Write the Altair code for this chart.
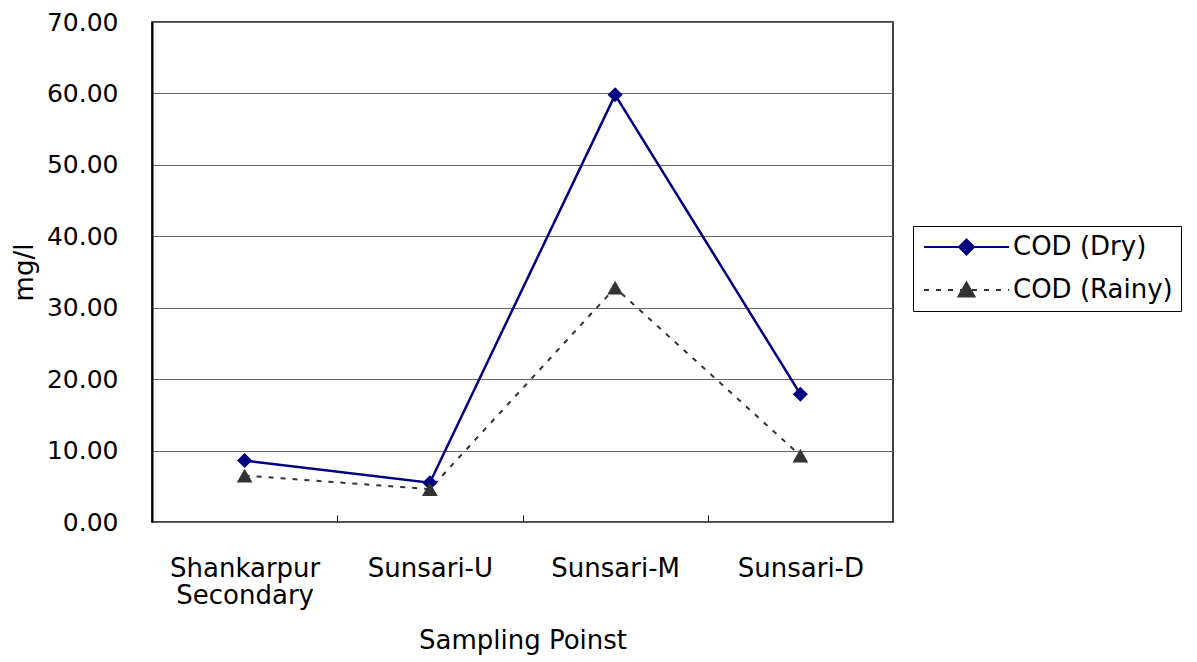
import altair as alt
import pandas as pd

categories = ["Shankarpur Secondary", "Sunsari-U", "Sunsari-M", "Sunsari-D"]
series_names = ["COD (Dry)", "COD (Rainy)"]
dry = [8.6, 5.5, 59.8, 17.9]
rainy = [6.5, 4.6, 32.8, 9.3]
y_ticks = [0, 10, 20, 30, 40, 50, 60, 70]

rows = []
for s, vals in zip(series_names, [dry, rainy]):
    for i, (c, v) in enumerate(zip(categories, vals)):
        rows.append({"site": c, "series": s, "value": v, "order": i})
df = pd.DataFrame(rows)

FONT = "DejaVu Sans"
W, H = 741, 500
step = W / len(categories)
NAVY = "#000080"
GREY = "#333333"

# legend symbol paths (unit = sqrt(symbolSize)/2 px)
dry_path = "M-1,0H7.5M3.25,-0.75L4,0L3.25,0.75L2.5,0Z"
dash_parts = []
p = -1.0
while p < 7.5:
    e = min(p + 0.5, 7.5)
    dash_parts.append(f"M{p:.2f},0H{e:.2f}")
    p += 1.2
rainy_path = "".join(dash_parts) + "M3.25,-0.75L4.05,0.65L2.45,0.65Z"

x_enc = alt.X(
    "site:N",
    sort=categories,
    scale=alt.Scale(type="point", padding=0.5),
    axis=alt.Axis(
        title="Sampling Poinst",
        labelAngle=0,
        labelExpr="split(datum.label, ' ')",
        tickOffset=-step / 2,
        labelOffset=step / 2,
        offset=-7,
        tickSize=7,
        tickColor="black",
        tickWidth=1,
        domain=False,
        labelPadding=33,
        labelLineHeight=27,
        labelFontSize=26,
        titleFontSize=26,
        titleFontWeight="normal",
        titlePadding=19,
        grid=False,
    ),
)
y_enc = alt.Y(
    "value:Q",
    scale=alt.Scale(domain=[0, 70], nice=False),
    axis=alt.Axis(
        values=y_ticks,
        format=".2f",
        title="mg/l",
        grid=True,
        gridColor="#666666",
        gridWidth=1,
        ticks=False,
        tickSize=0,
        domainColor="black",
        domainWidth=2,
        labelPadding=34,
        labelFontSize=25,
        titleFontSize=26,
        titleFontWeight="normal",
        titlePadding=9,
    ),
)

base = alt.Chart(df).encode(x=x_enc, y=y_enc, order="order:Q")

dry_line = base.transform_filter(alt.datum.series == series_names[0]).mark_line(
    color=NAVY, strokeWidth=2.5
)
rainy_line = base.transform_filter(alt.datum.series == series_names[1]).mark_line(
    color=GREY, strokeWidth=2, strokeDash=[5, 7]
)
dry_pts = base.transform_filter(alt.datum.series == series_names[0]).mark_point(
    shape="diamond", filled=True, color=NAVY, size=225, opacity=1
)
rainy_pts = base.transform_filter(alt.datum.series == series_names[1]).mark_point(
    shape="triangle-up", filled=True, color=GREY, size=250, opacity=1
)

leg = alt.Legend(
    title=None,
    orient="none",
    legendX=761,
    legendY=204,
    symbolSize=400,
    symbolStrokeWidth=2,
    symbolOpacity=1,
    labelFontSize=26,
    labelFont=FONT,
    labelColor="black",
    labelOffset=66,
    rowPadding=17,
    padding=8,
    strokeColor="black",
    fillColor="white",
)
legend_layer = base.mark_point(filled=True, opacity=0).encode(
    shape=alt.Shape("series:N", scale=alt.Scale(domain=series_names, range=[dry_path, rainy_path]), legend=leg),
    fill=alt.Fill("series:N", scale=alt.Scale(domain=series_names, range=[NAVY, GREY]), legend=leg),
    stroke=alt.Stroke("series:N", scale=alt.Scale(domain=series_names, range=[NAVY, GREY]), legend=leg),
)

chart = (
    alt.layer(dry_line, rainy_line, dry_pts, rainy_pts, legend_layer)
    .properties(
        width=W,
        height=H,
        autosize=alt.AutoSizeParams(type="none"),
        padding={"left": 152, "top": 22, "right": 304, "bottom": 140},
        background="white",
    )
    .configure_view(stroke="black", strokeWidth=1.5)
    .configure_axis(labelFont=FONT, titleFont=FONT, labelColor="black", titleColor="black")
)

chart.save("out.html", embed_options={"renderer": "svg", "actions": False})
